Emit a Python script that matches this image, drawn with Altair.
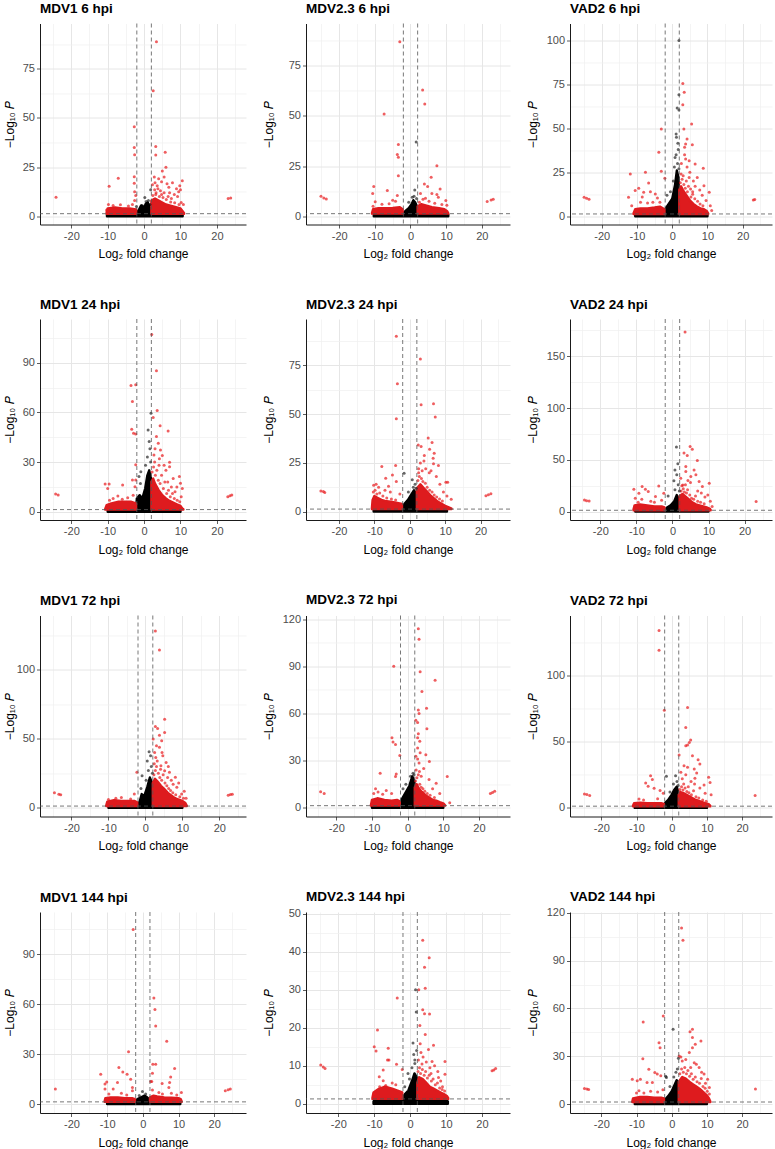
import altair as alt
import pandas as pd

FONT = "Liberation Sans"
RED = "#e8191c"
RED_CORE = "#de1b1e"
BLACK = "#000000"

TITLES = ["MDV1 6 hpi", "MDV2.3 6 hpi", "VAD2 6 hpi",
          "MDV1 24 hpi", "MDV2.3 24 hpi", "VAD2 24 hpi",
          "MDV1 72 hpi", "MDV2.3 72 hpi", "VAD2 72 hpi",
          "MDV1 144 hpi", "MDV2.3 144 hpi", "VAD2 144 hpi"]
X_DOMAINS = [[-28.6, 28.0], [-29.3, 27.9], [-29.0, 28.3],
             [-28.6, 28.0], [-29.3, 28.3], [-28.4, 27.6],
             [-28.5, 27.2], [-28.5, 28.7], [-28.9, 28.5],
             [-28.8, 28.9], [-29.0, 27.8], [-28.9, 28.5]]
Y_DOMAINS = [[-4.2, 98.0], [-4.1, 96.0], [-4.7, 109.7],
             [-5.0, 116.4], [-4.3, 98.8], [-8.1, 186.0],
             [-6.25, 139.2], [-5.6, 122.4], [-6.5, 145.5],
             [-5.4, 115.5], [-2.4, 50.4], [-5.6, 120.5]]
Y_STEPS = [25, 25, 25, 30, 25, 50, 50, 30, 50, 30, 10, 30]
FC_CUTOFF = [-2, 2]
P_CUTOFF = [1.3]
X_TITLE = "Log\u2082 fold change"
Y_TITLE = "\u2212Log\u2081\u2080 \U0001D443"

# ---------------- MDV1 6 hpi
MDV1_6_RED = [(3.4, 88.7), (2.5, 63.8), (-2.7, 45.5), (-2.7, 35), (-2.6, 31.3), (3.2, 35.4), (3.2, 31.1), (5.8, 32.5), (6.0, 24.9), (-7.1, 19.3), (-9.6, 15.2), (-2.7, 20.1), (-2.7, 16.8), (-2.6, 12.5), (-2.3, 10.5), (-24.2, 9.6), (23.1, 9.0), (23.8, 9.3), (5.0, 23), (10.5, 18), (10, 13.5), (7.8, 17), (6.8, 14.7), (4.8, 17.5), (3.0, 17), (2.3, 16), (8.9, 14), (9.5, 12.5), (9.8, 15.5), (5.5, 20), (7, 12), (4, 19), (3.6, 15.5), (2.8, 20), (6.3, 16.5), (8.3, 11), (9.2, 10), (10.2, 7), (10.8, 6), (-9.8, 6), (-8.5, 5.5), (-6.5, 5.8), (-4.3, 5.2), (-3.2, 6), (-2.6, 8), (-10.3, 3.2), (4.5, 13), (5.5, 12), (7.5, 9), (3.2, 11),
              (2.4, 10.5), (3.3, 12), (4.2, 10), (5.2, 9.5), (6.1, 8.5), (7.3, 7.2), (8.4, 6.8), (9.6, 6), (2.9, 13.5), (4.8, 11), (6.6, 10), (3.8, 14)]
MDV1_6_BLACK = [(0.6, 7.5), (1.2, 8), (-0.5, 5.5), (1.6, 6), (-2.1, 5), (0.2, 9.5), (1.8, 13.5)]
MDV1_6_CORE_BLACK = [(-10.2, 0.8), (-9.5, 1.3), (-2.2, 1.3), (-1.5, 3), (-0.8, 5.5), (0, 4.5), (0.5, 6.5), (1.0, 7), (1.5, 5), (2, 1.3), (10, 1.3), (10.6, 0.8)]
MDV1_6_CORE_RED_L = [(-10.3, 2), (-10, 4), (-8, 4.5), (-6, 4), (-4, 4), (-2.2, 3.5)]
MDV1_6_CORE_RED_R = [(2, 8), (3, 9), (4, 8), (5, 7), (6, 6), (7, 5.5), (8, 5), (9, 4.5), (10, 4), (10.6, 2.5), (11, 1.5)]

# ---------------- MDV2.3 6 hpi
MDV23_6_RED = [(-3.0, 86.9), (3.4, 62.9), (4.0, 55.9), (-7.4, 50.9), (-3.4, 35.7), (-3.7, 30.7), (-3.4, 29.4), (-3.4, 20.2), (7.4, 25.2), (5.8, 19.4), (3.9, 16.1), (4.8, 14.8), (-10.3, 14.8), (-10.6, 11.4), (-6.5, 12.8), (-3.7, 10.3), (8.3, 13.6), (7.4, 10.8), (6.0, 11.4), (2.8, 11.4), (-25.1, 10.0), (-24.3, 9.1), (-23.6, 8.6), (21.5, 7.3), (22.6, 8.1), (23.2, 8.5), (9.9, 7.8), (-9.9, 7.2), (-8, 6), (-5, 8), (-4.2, 7.5), (-6, 6.2), (3.5, 8.5), (5.2, 7.5), (4.2, 9), (6.8, 6.5), (8.8, 5.8), (10.2, 5.5), (-10.5, 5), (2.5, 7), (7.8, 9.5)]
MDV23_6_BLACK = [(1.6, 37.0), (1.2, 13.1), (0.5, 9.5), (1.0, 10), (-0.5, 7), (1.7, 8.8)]
MDV23_6_CORE_BLACK = [(-10.3, 0.8), (-9.8, 1.3), (-2.2, 1.3), (-1.5, 2.5), (-0.5, 4), (0.3, 6), (0.8, 8), (1.3, 7), (1.8, 5), (2, 1.3), (10, 1.3), (10.6, 0.8)]
MDV23_6_CORE_RED_L = [(-10.8, 1.6), (-10.5, 3.5), (-9, 4), (-7, 4), (-5, 4.2), (-3, 4.5), (-2.2, 3.5)]
MDV23_6_CORE_RED_R = [(2, 5), (3, 6), (4, 5.5), (6, 4.5), (8, 4), (9.5, 3.5), (10.3, 2.5), (10.6, 1.5)]

# ---------------- VAD2 6 hpi
VAD2_6_RED = [(3.0, 75.6), (3.4, 70.5), (3.0, 63.4), (-3.1, 49.6), (5.5, 52.5), (3.3, 49.6), (4.2, 43.9), (3.8, 41.1), (5.7, 40.7), (3.5, 39.2), (-3.8, 36.4), (3.8, 32.6), (4.8, 31.6), (6.5, 29.7), (8.8, 27.3), (-3.1, 25.6), (-7.6, 25.0), (-11.9, 24.1), (-2.1, 21.6), (-6.7, 18.9), (-9.5, 15.9), (-6.2, 14.0), (-4.8, 12.7), (-8.1, 13.6), (-10.5, 14.6), (-4.2, 10.4), (-12.4, 10.8), (7.1, 22), (9, 17.4), (10.5, 13.6), (11.2, 3.2), (-25, 10.8), (-24.3, 10.2), (-23.6, 9.7), (23, 9.3), (23.4, 9.5), (6, 20), (5, 25), (7.8, 15), (8.5, 12), (4.2, 28), (3.5, 35), (2.6, 30), (6.5, 17), (9.6, 9), (10.8, 6), (-9, 8), (-7, 7.5), (-5.5, 8), (-11.5, 6), (-3.5, 8), (-8.5, 11), (4.8, 22), (5.8, 14),
              (2.3, 19), (2.8, 21), (3.3, 18), (3.7, 16), (4.3, 14), (4.6, 17), (5.3, 11), (5.8, 12.5), (6.4, 10), (7.2, 8.5), (7.9, 7), (8.7, 6), (2.5, 24), (3.1, 23), (4.0, 20), (5.2, 15.5)]
VAD2_6_BLACK = [(1.9, 100), (1.9, 69.1), (1.4, 61.6), (1.9, 60.4), (1.1, 46.8), (1.2, 44.9), (1.6, 41.5), (1.1, 35), (0.8, 33.5), (1.5, 30), (0.6, 28), (1.7, 38), (-1.5, 12), (-0.5, 14), (0.3, 20), (1.9, 27)]
VAD2_6_CORE_BLACK = [(-10.5, 0.8), (-10, 1.3), (-2.2, 1.3), (-2, 4), (-1, 7), (0, 10), (0.8, 18), (1.3, 26), (1.8, 22), (2, 1.3), (9.5, 1.3), (10, 0.8)]
VAD2_6_CORE_RED_L = [(-11, 1.6), (-10.5, 4), (-9, 4.5), (-7, 4.5), (-5, 5), (-3.5, 5.5), (-2.2, 4)]
VAD2_6_CORE_RED_R = [(2, 15), (2.5, 17), (3, 15), (4, 12), (5, 9), (6, 7), (7, 5.5), (8, 4.5), (9, 4), (9.8, 3), (10.2, 1.5)]

# ---------------- MDV1 24 hpi
MDV1_24_RED = [(2.1, 107), (3.4, 85.2), (-3.6, 76.3), (-2.3, 76.7), (-3.2, 66.6), (3.6, 61.2), (2.5, 56.9), (-3.4, 49.8), (-2.9, 47.4), (-2.3, 47), (4.4, 51.9), (6.6, 48.8), (3.4, 45.4), (3.9, 41.4), (4.5, 37.3), (2.7, 34.3), (5, 33.9), (7, 29.9), (7, 27.2), (9.7, 21.2), (10, 17.2), (10.5, 14.1), (-2.3, 28.3), (-3.2, 19.2), (-2.3, 19.2), (-2.5, 15.1), (-10.7, 16.8), (-9.6, 16.8), (-10, 14.1), (-5.9, 16.2), (-24.3, 10.7), (-23.6, 10.1), (23, 9.1), (23.6, 9.7), (24.1, 10.1), (6, 25), (8, 20), (5.5, 28), (4.2, 32), (9, 15), (8.5, 12), (10.2, 9), (-8.5, 8), (-7.2, 9.5), (-4.5, 8.5), (-6, 7.5), (-9.5, 7), (-3, 10), (3, 38), (6.5, 18), (7.5, 15),
               (2.2, 24), (2.6, 27), (3.1, 22), (3.5, 25), (3.9, 19), (4.4, 17), (4.8, 22), (5.3, 14), (5.7, 18), (6.2, 11), (6.7, 13), (7.2, 9), (7.8, 11), (8.3, 8), (9.1, 7), (9.8, 6), (2.9, 30), (4.1, 28)]
MDV1_24_BLACK = [(1.9, 59.5), (1.1, 49.4), (1.4, 42.4), (-0.9, 24.2), (-1.4, 21.2), (1.6, 38), (0.9, 33), (1.8, 30), (-1, 17), (0.4, 28)]
MDV1_24_CORE_BLACK = [(-10, 0.8), (-9.5, 1.3), (-2.2, 1.3), (-2, 8), (-1.2, 10), (-0.5, 8), (0.3, 14), (0.9, 22), (1.4, 25), (1.9, 20), (2, 1.3), (9.5, 1.3), (10, 0.8)]
MDV1_24_CORE_RED_L = [(-10.7, 1.6), (-10.3, 4), (-9, 5), (-7, 6), (-5, 6), (-3.5, 6), (-2.2, 5)]
MDV1_24_CORE_RED_R = [(2, 18), (2.5, 20), (3, 17), (4, 13), (5, 10), (6, 8), (7, 6.5), (8, 5.5), (9, 4.5), (10, 3.5), (10.5, 2), (10.8, 1.5)]

# ---------------- MDV2.3 24 hpi
MDV23_24_RED = [(-3.8, 89.9), (3.0, 78.3), (-3.5, 65.6), (3.2, 54.8), (6.7, 55.3), (7.2, 48.5), (-3.8, 47.6), (5.2, 37.7), (6.3, 35.4), (2.4, 34.2), (3.2, 33.4), (5.6, 32), (6.9, 30), (4.1, 28.8), (6.6, 27.4), (8.1, 23.6), (6.7, 24.5), (-4, 23.6), (-7.9, 23.1), (-6.8, 17.1), (-3.8, 15.4), (-4.9, 18.8), (10.7, 15), (10.2, 15), (11.7, 6.3), (-25.1, 10.6), (-24.4, 10.3), (-24, 9.8), (21.5, 8.2), (22.2, 8.7), (22.9, 9.2), (-10.2, 13.5), (-9.5, 14), (-8.8, 12.5), (-7, 11), (-5.5, 10), (3, 25), (4.5, 22), (5.5, 20), (7.5, 18), (8.5, 14), (9.5, 10), (10.5, 8), (2.5, 22), (4, 26), (6, 21), (-2.8, 9), (-6, 13),
                (2.3, 16), (2.7, 18), (3.3, 17), (3.7, 15.5), (4.4, 14.5), (4.9, 12.5), (5.6, 11), (6.3, 10), (6.9, 8.5), (7.6, 7.5), (8.4, 6.5), (9.2, 5.5), (2.5, 20), (3.5, 21),
                (-10.3, 10), (-9.8, 11), (-9.3, 9), (-8.5, 9.5), (-7.6, 8), (-6.5, 7), (-5.2, 6.5), (-4, 6)]
MDV23_24_BLACK = [(-1.6, 19.7), (0.7, 16.3), (1.5, 14), (1.0, 12.5), (-0.4, 10), (1.8, 12)]
MDV23_24_CORE_BLACK = [(-10.2, 0.8), (-9.8, 1.3), (-2.2, 1.3), (-1.5, 4), (-0.5, 6), (0.5, 9), (1.2, 11), (1.8, 9), (2, 1.3), (10, 1.3), (10.5, 0.8)]
MDV23_24_CORE_RED_L = [(-10.7, 1.6), (-10.5, 6), (-10, 8), (-9, 7), (-8, 6), (-7, 5.5), (-5, 5), (-3.5, 4.5), (-2.2, 4)]
MDV23_24_CORE_RED_R = [(2, 12), (3, 14), (4, 12), (5, 10), (6, 8), (7, 6.5), (8, 5), (9, 4), (10, 3), (11, 2.2), (11.8, 1.5)]

# ---------------- VAD2 24 hpi
VAD2_24_RED = [(3.5, 173.5), (4.9, 62.9), (5.5, 60.3), (3.2, 56.5), (4.1, 54.2), (6.9, 49.4), (3.7, 43.5), (6, 40.3), (3.7, 38.7), (5.1, 33.9), (6.5, 35.5), (2.3, 32.3), (7.4, 29), (10.2, 27.4), (8.3, 24.2), (2.9, 25.8), (-8.4, 24.2), (-7.5, 21.6), (-10.7, 21.6), (-3.8, 24.8), (-6.7, 19.4), (-9.3, 17.7), (-4.7, 14.5), (-2.4, 17.7), (-10.3, 12.9), (-24.4, 11.3), (-23.8, 10.6), (-23.1, 10.3), (23.2, 9.7), (8, 18), (9, 14), (10.5, 10), (9.8, 16), (7, 20), (5, 28), (4.3, 30), (-8.5, 12), (-6, 10), (-9.5, 9), (-5, 9), (11, 5), (-3, 11),
               (2.4, 20), (3.0, 22), (3.3, 19), (3.9, 18), (4.2, 21), (4.8, 16), (5.3, 13), (5.9, 12), (6.4, 15), (7.0, 10), (7.8, 9), (8.8, 7.5), (2.6, 25), (3.6, 26)]
VAD2_24_BLACK = [(1.1, 62.3), (1.5, 46.1), (0.7, 40.3), (1.2, 35.5), (0.4, 29.7), (0.7, 21), (1.6, 26), (-1.2, 15), (1.9, 20)]
VAD2_24_CORE_BLACK = [(-10.3, 0.8), (-10, 1.3), (-2.2, 1.3), (-1.5, 4), (-0.5, 6), (0.5, 10), (1.2, 16), (1.8, 12), (2, 1.3), (9.5, 1.3), (10, 0.8)]
VAD2_24_CORE_RED_L = [(-10.8, 2), (-10.5, 6), (-9, 7), (-7, 6), (-5, 5), (-3, 5), (-2.2, 4)]
VAD2_24_CORE_RED_R = [(2, 15), (2.8, 17), (3.5, 15), (4.5, 12), (5.5, 9), (6.5, 7), (7.5, 6), (8.5, 5), (9.5, 4), (10.3, 3), (10.6, 1.5)]

# ---------------- MDV1 72 hpi
MDV1_72_RED = [(2.7, 127.9), (3.8, 114.2), (5.2, 64.2), (2.7, 58.9), (3.3, 57.5), (3.8, 52.6), (4.4, 48.6), (5.2, 54.6), (2.1, 49.8), (3.8, 43.8), (4.7, 37.7), (5.6, 32.9), (6.5, 25.7), (8.1, 22.1), (4.2, 30.5), (2.8, 36.5), (5.2, 26.9), (-2.3, 25.7), (-24.6, 11), (-23.4, 9.9), (-22.9, 9.4), (22.4, 9.1), (23, 9.6), (23.5, 9.9), (9, 18), (10.5, 12), (8.5, 15), (7, 20), (6, 22), (9.8, 10), (11, 7), (-8, 7), (-6.5, 7.5), (-10, 6), (-4, 6.5), (-3, 10), (3, 45), (4.5, 40), (2.5, 40), (7.5, 17), (6.2, 30),
               (2.3, 24), (2.7, 27), (3.0, 30), (3.5, 25), (3.9, 22), (4.4, 20), (4.8, 24), (5.3, 18), (5.8, 16), (6.3, 14), (6.8, 12.5), (7.4, 11), (8.2, 9.5), (9.3, 8), (10.3, 7), (3.2, 34), (4.1, 28), (2.4, 32)]
MDV1_72_BLACK = [(1, 40.6), (1.4, 37.7), (0.5, 34), (-0.9, 23.3), (1.6, 30), (0.8, 27), (-1.2, 14), (1.9, 25), (0.2, 20)]
MDV1_72_CORE_BLACK = [(-10, 0.8), (-9.5, 1.3), (-2.2, 1.3), (-1.5, 5), (-1, 10), (-0.4, 8), (0.5, 15), (1.2, 22), (1.8, 18), (2, 1.3), (9.5, 1.3), (10, 0.8)]
MDV1_72_CORE_RED_L = [(-10.6, 1.6), (-10.3, 4.5), (-8.5, 5.5), (-6.5, 5), (-4.5, 5), (-3, 5), (-2.2, 4)]
MDV1_72_CORE_RED_R = [(2, 18), (2.6, 21), (3.3, 19), (4.2, 16), (5, 14), (6, 11), (7, 9), (8, 7), (9, 6), (10, 5), (10.8, 3.5), (11.2, 1.5)]

# ---------------- MDV2.3 72 hpi
MDV23_72_RED = [(3.0, 114), (3.2, 107.3), (-3.9, 90.1), (7.7, 81.1), (3.5, 86.5), (4.0, 74), (5.3, 63.4), (3.0, 62.2), (3.2, 60), (2.8, 54.2), (5.4, 50.3), (2.3, 55.7), (3.0, 47.1), (2.8, 44.5), (3.4, 42.4), (-4.4, 44.5), (-4.1, 41.9), (-3.4, 40.2), (-2.2, 33.3), (2.3, 32.7), (2.8, 31), (5.1, 33.8), (3.2, 28.4), (6.1, 29.5), (-3.2, 21.5), (-3.4, 19.8), (-7.7, 21.9), (11.1, 19.8), (8.0, 15.5), (11.8, 3.2), (-24.4, 10.1), (-23.4, 9), (23.2, 9), (23.8, 9.7), (24.4, 10.5), (-9, 12), (-8.3, 10), (-9.5, 9), (-7, 8.5), (-4.5, 9), (-6, 11), (4.5, 25), (2.8, 38), (3.5, 35), (7, 12), (9, 9), (6, 18), (3.8, 20),
                (2.2, 17), (2.6, 19), (3.0, 21), (3.4, 15), (3.8, 13), (4.3, 12), (4.8, 10.5), (5.5, 9), (6.3, 8), (2.4, 24), (3.3, 23), (7.5, 6.5)]
MDV23_72_BLACK = [(1.5, 22), (0.8, 20), (-0.5, 15), (1.2, 17), (-1.3, 12), (1.8, 21)]
MDV23_72_CORE_BLACK = [(-10, 0.8), (-9.5, 1.3), (-2.2, 1.3), (-1.5, 6), (-0.5, 10), (0.5, 14), (1.3, 20), (1.9, 17), (2, 1.3), (9.5, 1.3), (10, 0.8)]
MDV23_72_CORE_RED_L = [(-10.3, 1.6), (-10, 5), (-8.5, 6), (-6.5, 5), (-4.5, 4.5), (-3, 5), (-2.2, 4)]
MDV23_72_CORE_RED_R = [(2, 13), (2.5, 15), (3.2, 12), (4, 10), (5, 8), (6, 6.5), (7, 5), (8, 4.5), (9, 3.5), (10, 2.8), (10.5, 1.5)]

# ---------------- VAD2 72 hpi
VAD2_72_RED = [(-3.6, 134.2), (-3.6, 119.3), (-2.1, 73.9), (4.5, 75.9), (4.0, 60.8), (5.4, 51.3), (5.0, 49.5), (4.0, 47), (4.5, 47.5), (2.1, 40), (5.9, 39.4), (7.5, 36.4), (8, 33.2), (3.5, 31.9), (4.5, 30.7), (6.4, 29.4), (2.6, 26.9), (7.1, 26.4), (6.6, 22.4), (10.5, 23.1), (10.9, 19.3), (9.2, 17.3), (-6, 24.4), (-5.5, 21.4), (-7.4, 18.8), (-6.7, 16.3), (-9.3, 6.8), (-5, 14.8), (-3.3, 13.1), (-2.4, 11), (-24.8, 10.6), (-24.1, 10.1), (-23.3, 9.3), (23.7, 9.3), (3, 22), (5.5, 20), (8, 15), (9.5, 11), (6.5, 18), (4, 25), (11.2, 10), (-4, 7), (-8, 6),
               (2.3, 14), (2.8, 16), (3.2, 13.5), (3.8, 15), (4.3, 12.5), (4.9, 11.5), (5.6, 10), (6.2, 13), (6.9, 8.5), (7.7, 7.5), (8.8, 6), (9.8, 5), (3.4, 18), (4.7, 16)]
VAD2_72_BLACK = [(1.1, 24.4), (-1.5, 23.9), (0.5, 18), (1.5, 20), (-0.5, 12), (1.8, 17)]
VAD2_72_CORE_BLACK = [(-10.5, 0.8), (-10, 1.3), (-2.2, 1.3), (-1.8, 4), (-1, 6), (0, 10), (0.8, 14), (1.4, 16), (1.9, 12), (2, 1.3), (9.5, 1.3), (10, 0.8)]
VAD2_72_CORE_RED_L = [(-11, 1.6), (-10.7, 3.5), (-9, 4), (-7, 3.5), (-5, 3.5), (-3, 3.5), (-2.2, 3)]
VAD2_72_CORE_RED_R = [(2, 10), (2.5, 12), (3.5, 11), (4.5, 9.5), (5.5, 8), (6.5, 6.5), (7.5, 5.5), (8.5, 4.5), (9.5, 3.5), (10.5, 2.8), (11, 1.5)]

# ---------------- MDV1 144 hpi
MDV1_144_RED = [(-2.7, 105), (3.1, 63.7), (3.4, 56.8), (3.6, 47), (6.7, 37.8), (-4, 31.5), (2.8, 23.9), (3.6, 23.9), (8.9, 21.3), (-11.8, 17.9), (-6.7, 21.9), (-5.6, 19.3), (-4.4, 17.9), (2.7, 18.5), (7.8, 16.3), (-10.1, 13.3), (-10.6, 12), (-7.1, 12.9), (-3.4, 14.9), (2.2, 13.5), (2.5, 13.5), (7.5, 12.9), (5.4, 12.4), (-2.9, 10), (-10.6, 9), (-8.3, 9), (-2.9, 8), (2.7, 8.4), (4.5, 7), (7.3, 10), (-24.5, 9), (23.1, 8), (23.9, 8.6), (24.5, 9), (-9.5, 6), (-6, 6.5), (5.5, 6), (9.5, 5.5), (10.8, 7), (-4.5, 5.5), (8, 6.5)]
MDV1_144_BLACK = [(-0.1, 7.6), (0.8, 6), (-1, 5.2)]
MDV1_144_CORE_BLACK = [(-10, 0.8), (-9.5, 1.3), (-2.2, 1.3), (-1.5, 3), (-0.5, 4), (0.5, 5), (1.2, 4), (1.8, 3), (2, 1.3), (10, 1.3), (10.5, 0.8)]
MDV1_144_CORE_RED_L = [(-10.7, 1.6), (-10.5, 3.5), (-9, 4), (-7, 4), (-5, 3.5), (-3, 3.5), (-2.2, 3)]
MDV1_144_CORE_RED_R = [(2, 4), (3, 5), (4, 4.5), (6, 4), (8, 3.8), (10, 3.5), (10.6, 3), (10.9, 1.5)]

# ---------------- MDV2.3 144 hpi
MDV23_144_RED = [(3.5, 43), (5.3, 38.4), (4.0, 35.9), (4.2, 30.4), (2.4, 30), (-3.6, 27.8), (3.5, 24.7), (4.0, 23.7), (5.4, 23.6), (2.7, 20.6), (4.2, 18.2), (-9.1, 19.4), (-10, 15), (-9.5, 13.9), (-6.1, 14.6), (2.8, 15.8), (6.5, 15.4), (5.1, 14.3), (-6.3, 11.5), (-5.9, 11.5), (-3.8, 10.4), (-2.2, 9), (-7.5, 8.9), (6.1, 11.1), (9.7, 11.1), (7.7, 8.5), (3.6, 12.3), (-8.6, 7.1), (-7.5, 6.1), (-10, 2.6), (9.7, 7.8), (7.9, 6.9), (-24.9, 10.2), (-24.2, 9.7), (-23.7, 9.3), (22.8, 8.7), (23.3, 8.9), (23.8, 9.3), (3, 13.5), (4.5, 11), (5.5, 9.5), (6.8, 10), (8.5, 6), (-5, 5.5), (-6.8, 4.8), (-8.5, 4.5), (-4, 5), (2.3, 11.5), (3.3, 10.5), (5.8, 8), (9, 4.5),
                 (2.2, 8.5), (2.6, 9.5), (2.9, 8), (3.4, 9), (3.9, 7.5), (4.3, 8.5), (4.8, 6.8), (5.3, 7.5), (5.9, 6), (6.4, 6.5), (7.0, 5), (7.6, 5.5), (8.2, 4.2), (8.9, 3.8), (9.6, 3.4)]
MDV23_144_BLACK = [(1.5, 30), (1.7, 24.1), (0.8, 16), (1.3, 11.5), (1.3, 10.6), (1.0, 13), (-0.6, 8), (1.8, 14), (0.5, 9.5), (-1.5, 4.5), (-0.2, 6.5)]
MDV23_144_CORE_BLACK = [(-10.2, 0.6), (-9.8, 1.3), (-2.2, 1.3), (-1.5, 2.5), (-0.5, 3.5), (0.5, 6), (1.2, 8), (1.8, 7), (2, 1.3), (10, 1.3), (10.5, 0.6)]
MDV23_144_CORE_RED_L = [(-10.5, 1.6), (-10.2, 3), (-9, 3.8), (-7, 4.5), (-5, 4), (-3.5, 3.5), (-2.2, 3)]
MDV23_144_CORE_RED_R = [(2, 5.5), (2.5, 7), (3.5, 6.5), (4.5, 5.5), (5.5, 4.5), (6.5, 4), (7.5, 3.5), (8.5, 3), (9.5, 2.5), (10.3, 2), (10.6, 1.5)]

# ---------------- VAD2 144 hpi
VAD2_144_RED = [(2.8, 110.4), (3.2, 102.7), (-2.4, 55.2), (-8.1, 51.5), (5.2, 45.4), (5.9, 46.9), (5.9, 41.7), (8.3, 39.6), (6.7, 37.5), (5.9, 35.4), (5.0, 32.3), (2.6, 29.6), (2.1, 30.2), (-3.6, 38.5), (-3.3, 35.4), (-8.2, 28.5), (-6.5, 21.9), (-4.8, 19.8), (-4.1, 18.8), (-3.1, 17.7), (-11.2, 15.6), (-9.8, 14.6), (-8.9, 15.6), (-7, 13.5), (-5.5, 13.5), (-9.3, 8.3), (-7.9, 6.9), (3.0, 27.1), (6.4, 26), (5.4, 22.9), (7.8, 22.9), (9.2, 18.8), (10.2, 15.6), (10.7, 10.4), (10.7, 6.3), (-24.8, 9.8), (-24.1, 9.4), (-23.6, 9.2), (23.8, 9.4), (4, 28), (7, 25), (8.5, 20), (9.6, 13), (-6, 8), (-4, 7.5), (-10, 7), (-2.5, 9),
                (2.3, 19), (2.8, 22), (3.3, 20), (3.7, 23), (4.2, 19), (4.6, 21), (5.1, 17.5), (5.6, 19), (6.1, 15.5), (6.7, 17), (7.2, 14), (7.9, 13), (8.4, 16), (8.9, 11), (9.5, 10), (10.1, 8)]
VAD2_144_BLACK = [(0.4, 46.9), (1.9, 28.8), (-1.7, 17.5), (-1.5, 16.7), (1.2, 20), (0.6, 17), (1.6, 22), (-0.5, 11)]
VAD2_144_CORE_BLACK = [(-10.5, 0.8), (-10, 1.3), (-2.2, 1.3), (-1.8, 3), (-1, 5), (0, 8), (0.8, 12), (1.4, 15), (1.9, 12), (2, 1.3), (9.5, 1.3), (10, 0.8)]
VAD2_144_CORE_RED_L = [(-11.2, 1.6), (-11, 3.5), (-9, 4.5), (-7, 4.5), (-5, 4), (-3, 4), (-2.2, 3.5)]
VAD2_144_CORE_RED_R = [(2, 14), (3, 17), (4, 16), (5, 14), (6, 12.5), (7, 11), (8, 9.5), (9, 7.5), (10, 5.5), (10.6, 3.5), (11, 1.5)]

PANEL_DATA = [
    (MDV1_6_RED, MDV1_6_BLACK, MDV1_6_CORE_BLACK, MDV1_6_CORE_RED_L, MDV1_6_CORE_RED_R),
    (MDV23_6_RED, MDV23_6_BLACK, MDV23_6_CORE_BLACK, MDV23_6_CORE_RED_L, MDV23_6_CORE_RED_R),
    (VAD2_6_RED, VAD2_6_BLACK, VAD2_6_CORE_BLACK, VAD2_6_CORE_RED_L, VAD2_6_CORE_RED_R),
    (MDV1_24_RED, MDV1_24_BLACK, MDV1_24_CORE_BLACK, MDV1_24_CORE_RED_L, MDV1_24_CORE_RED_R),
    (MDV23_24_RED, MDV23_24_BLACK, MDV23_24_CORE_BLACK, MDV23_24_CORE_RED_L, MDV23_24_CORE_RED_R),
    (VAD2_24_RED, VAD2_24_BLACK, VAD2_24_CORE_BLACK, VAD2_24_CORE_RED_L, VAD2_24_CORE_RED_R),
    (MDV1_72_RED, MDV1_72_BLACK, MDV1_72_CORE_BLACK, MDV1_72_CORE_RED_L, MDV1_72_CORE_RED_R),
    (MDV23_72_RED, MDV23_72_BLACK, MDV23_72_CORE_BLACK, MDV23_72_CORE_RED_L, MDV23_72_CORE_RED_R),
    (VAD2_72_RED, VAD2_72_BLACK, VAD2_72_CORE_BLACK, VAD2_72_CORE_RED_L, VAD2_72_CORE_RED_R),
    (MDV1_144_RED, MDV1_144_BLACK, MDV1_144_CORE_BLACK, MDV1_144_CORE_RED_L, MDV1_144_CORE_RED_R),
    (MDV23_144_RED, MDV23_144_BLACK, MDV23_144_CORE_BLACK, MDV23_144_CORE_RED_L, MDV23_144_CORE_RED_R),
    (VAD2_144_RED, VAD2_144_BLACK, VAD2_144_CORE_BLACK, VAD2_144_CORE_RED_L, VAD2_144_CORE_RED_R),
]

COL_WIDTHS = [206, 204, 202]
COL_TITLE_X = [-31, -38, -38]
PANEL_H = 201
LABEL_GREY = "#4d4d4d"
LABEL_HALF = 4.5   # half height of a y tick label, px


def cond(test, a, b):
    return {"condition": {"test": test, "value": a}, "value": b}


def make_panel(i):
    red, black, core_bk, core_rl, core_rr = PANEL_DATA[i]
    col = i % 3
    step = Y_STEPS[i]
    yd = Y_DOMAINS[i]
    xvals = list(range(-25, 30, 5))
    yvals = []
    k = 0
    while k * step / 2 <= yd[1]:
        yvals.append(k * step / 2)
        k += 1
    top_major = max(v for v in yvals if v % step == 0)
    gap_px = (yd[1] - top_major) * PANEL_H / (yd[1] - yd[0])
    overflow = max(0.0, LABEL_HALF - gap_px)
    tx = "datum.value % 10 == 0"
    ty = f"datum.value % {step} == 0"
    xaxis = alt.Axis(values=xvals, title=X_TITLE,
                     labelExpr=f"{tx} ? toString(datum.value) : ''",
                     labelColor=LABEL_GREY, labelFont=FONT, labelFontSize=11,
                     gridColor=cond(tx, "#e6e6e6", "#efefef"),
                     gridWidth=cond(tx, 1.0, 0.7),
                     tickOpacity=cond(tx, 1, 0),
                     titleY=29, titleBaseline="middle")
    yaxis = alt.Axis(values=yvals, title=Y_TITLE,
                     labelExpr=f"{ty} ? toString(datum.value) : ''",
                     labelColor=LABEL_GREY, labelFont=FONT, labelFontSize=11,
                     gridColor=cond(ty, "#e6e6e6", "#efefef"),
                     gridWidth=cond(ty, 1.0, 0.7),
                     tickOpacity=cond(ty, 1, 0),
                     titleX=COL_TITLE_X[col], titleBaseline="middle")
    xs = alt.Scale(domain=X_DOMAINS[i], nice=False, zero=False)
    ys = alt.Scale(domain=yd, nice=False, zero=False)

    rows = ([{"g": "bk", "x": x, "top": t, "bot": 0.0} for x, t in core_bk]
            + [{"g": "rl", "x": x, "top": t, "bot": P_CUTOFF[0]} for x, t in core_rl]
            + [{"g": "rr", "x": x, "top": t, "bot": P_CUTOFF[0]} for x, t in core_rr])
    gscale = alt.Scale(domain=["bk", "rl", "rr"], range=[BLACK, RED_CORE, RED_CORE])
    area = alt.Chart(pd.DataFrame(rows)).mark_area(
        strokeWidth=2.4, strokeJoin="round", opacity=1
    ).encode(
        x=alt.X("x:Q", scale=xs, axis=xaxis),
        y=alt.Y("top:Q", scale=ys, axis=yaxis, stack=None),
        y2="bot:Q",
        fill=alt.Fill("g:N", scale=gscale, legend=None),
        stroke=alt.Stroke("g:N", scale=gscale, legend=None),
        detail="g:N",
    )
    rp = alt.Chart(pd.DataFrame(red, columns=["x", "top"])).mark_circle(
        size=9, opacity=0.7, color=RED
    ).encode(x=alt.X("x:Q", scale=xs, axis=xaxis), y=alt.Y("top:Q", scale=ys, axis=yaxis))
    bp = alt.Chart(pd.DataFrame(black, columns=["x", "top"])).mark_circle(
        size=9, opacity=0.6, color=BLACK
    ).encode(x=alt.X("x:Q", scale=xs, axis=xaxis), y=alt.Y("top:Q", scale=ys, axis=yaxis))
    vr = alt.Chart(pd.DataFrame({"x": FC_CUTOFF})).mark_rule(
        color="#555555", strokeWidth=0.8, strokeDash=[4, 3]
    ).encode(x=alt.X("x:Q", scale=xs, axis=xaxis))
    hr = alt.Chart(pd.DataFrame({"top": P_CUTOFF})).mark_rule(
        color="#555555", strokeWidth=0.8, strokeDash=[4, 3]
    ).encode(y=alt.Y("top:Q", scale=ys, axis=yaxis))
    return alt.layer(area, rp, bp, vr, hr).properties(
        width=COL_WIDTHS[col], height=PANEL_H,
        title=alt.TitleParams(TITLES[i], anchor="start", frame="group", fontSize=13.5,
                              fontWeight="bold", font=FONT, color="black",
                              offset=-3.5 - overflow, baseline="alphabetic"),
    )


rows = []
for r in range(4):
    rows.append(alt.hconcat(*[make_panel(r * 3 + c) for c in range(3)],
                            spacing=60, bounds="flush"))

chart = alt.vconcat(*rows, spacing=37.5).properties(
    padding={"left": 3, "top": 1.5, "right": 0, "bottom": 0}
).configure_view(stroke=None).configure_axis(
    labelFont=FONT, titleFont=FONT, labelFontSize=11, titleFontSize=12,
    labelColor=LABEL_GREY, titleColor="#000000", titleFontWeight="normal",
    domainColor="#1a1a1a", domainWidth=1, tickColor="#333333", tickSize=3.5,
    tickWidth=0.8, labelPadding=2
)

chart.save("out.html", embed_options={"renderer": "svg", "actions": False})
